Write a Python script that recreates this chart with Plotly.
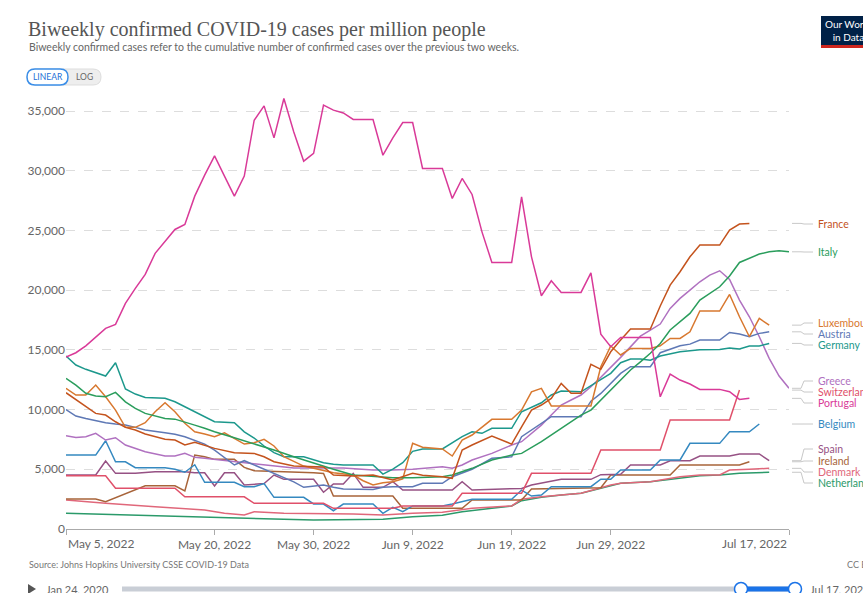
import plotly.graph_objects as go
import pandas as pd

# ---------------- DATA ----------------
START = pd.Timestamp("2022-05-05")

countries = ["France", "Italy", "Luxembourg", "Austria", "Germany", "Greece",
             "Switzerland", "Portugal", "Belgium", "Spain", "Ireland",
             "Denmark", "Netherlands"]

# day offsets from May 5, 2022 and biweekly cases per million
france_days = [0, 1, 2, 3, 4, 5, 6, 7, 8, 10, 11, 12, 13, 14, 15, 17, 18, 19, 20, 21, 23, 25, 26, 27, 29, 31, 33, 35, 36, 38,
               39, 40, 41, 43, 44, 45, 46, 47, 48, 49, 50, 51, 52, 53, 54, 55, 56, 57, 59, 60, 61, 62, 63, 64, 66, 67, 68, 69]
france_vals = [11410, 10850, 10240, 9680, 9540, 8980, 8510, 8290, 7950, 7510, 7450, 7030, 7260, 7030, 6750, 6390, 6330, 6330,
               6050, 5630, 5270, 5220, 5200, 4520, 4440, 4520, 4100, 4660, 4500, 4380, 4240, 6610, 7030, 7780, 7450, 7110,
               8560, 9960, 10380, 10940, 12190, 11360, 11360, 13790, 13370, 14840, 15820, 16740, 16740, 18670, 20420, 21540,
               22790, 23770, 23770, 25030, 25530, 25590]

italy_days = [0, 1, 2, 3, 4, 5, 6, 7, 8, 10, 11, 12, 13, 14, 15, 17, 18, 19, 21, 23, 25, 27, 29, 31, 33, 35, 37, 38, 39, 41,
              43, 45, 46, 48, 50, 52, 53, 54, 55, 57, 58, 59, 60, 61, 63, 64, 66, 67, 68, 69, 70, 71, 72, 73]
italy_vals = [12610, 12050, 11360, 11130, 11070, 11440, 10650, 10100, 9680, 9260, 9200, 8980, 8700, 8430, 8140, 7640, 7390,
              7150, 6610, 6050, 5500, 5000, 4520, 4380, 4300, 4300, 4380, 4380, 4520, 5080, 5780, 6190, 6330, 7310, 8430,
              9540, 9960, 10800, 11700, 13310, 14000, 14710, 15540, 16660, 18050, 19170, 20280, 21180, 22320, 22660, 23020,
              23210, 23300, 23210]

luxembourg_days = [0, 1, 2, 3, 4, 5, 6, 7, 8, 9, 10, 11, 12, 13, 14, 15, 16, 17, 18, 19, 20, 21, 22, 24, 25, 26, 27, 29, 30,
                   31, 32, 33, 34, 35, 36, 38, 39, 40, 41, 43, 45, 46, 47, 48, 49, 53, 54, 55, 56, 57, 59, 60, 61, 62, 63,
                   64, 66, 67, 68, 69, 70, 71]
luxembourg_vals = [11780, 11220, 11220, 12050, 11070, 9960, 8510, 8510, 8900, 9820, 10570, 9820, 8850, 8140, 7950, 7730,
                   8060, 7590, 7110, 7220, 7510, 6950, 6050, 5270, 5080, 4950, 4710, 4520, 4040, 3680, 3880, 3960, 4200,
                   7170, 6840, 6700, 6110, 7450, 7870, 9180, 9180, 9960, 11490, 11780, 10300, 10300, 13590, 15320, 14570,
                   15120, 15120, 15340, 15960, 15960, 16510, 18250, 18250, 19640, 17770, 16100, 17630, 17070]

austria_days = [0, 1, 2, 3, 4, 5, 6, 7, 8, 10, 11, 12, 13, 14, 15, 16, 17, 18, 19, 20, 21, 23, 24, 25, 26, 27, 28, 31, 32,
                33, 35, 36, 38, 39, 41, 43, 45, 46, 47, 48, 49, 52, 53, 54, 55, 56, 57, 59, 60, 61, 62, 63, 64, 66, 67, 68,
                69, 70, 71]
austria_vals = [10000, 9460, 9260, 9060, 8900, 8790, 8700, 8510, 8290, 8060, 7930, 7730, 7450, 7110, 6610, 6000, 5360, 5720,
                5360, 5000, 4660, 3950, 3490, 3600, 3680, 3500, 3350, 3300, 3490, 3540, 3540, 3830, 3830, 4380, 5000, 5920,
                6050, 7730, 8290, 8850, 9400, 9400, 10700, 11350, 12200, 13030, 13590, 13590, 14760, 15040, 15340, 15480,
                15820, 15820, 16460, 16320, 16100, 16380, 16510]

germany_days = [0, 1, 2, 3, 4, 5, 6, 7, 8, 10, 11, 12, 13, 14, 15, 17, 18, 19, 20, 21, 22, 24, 25, 26, 27, 28, 31, 32, 33,
                34, 35, 36, 38, 39, 40, 41, 42, 43, 45, 46, 47, 48, 49, 50, 52, 53, 54, 55, 56, 57, 58, 59, 60, 61, 62, 63,
                64, 66, 67, 68, 69, 70, 71]
germany_vals = [14480, 13730, 13370, 13120, 12810, 13920, 11720, 11300, 11020, 10940, 10650, 10240, 9820, 9350, 8980, 8900,
                8140, 7620, 6950, 6390, 6050, 6050, 5780, 5550, 5420, 5360, 5360, 4600, 5020, 5550, 6500, 6700, 6700, 7200,
                7730, 8140, 8010, 8430, 8430, 9820, 10190, 10570, 11220, 11550, 11490, 12000, 12470, 13030, 13920, 14230,
                14230, 14140, 14480, 14650, 14840, 14920, 15000, 15040, 15150, 15070, 15320, 15320, 15540]

greece_days = [0, 1, 2, 3, 4, 5, 6, 7, 8, 10, 11, 12, 13, 14, 15, 17, 19, 21, 23, 28, 31, 33, 35, 38, 39, 40, 41, 43, 45,
               46, 47, 48, 49, 50, 51, 52, 53, 54, 56, 58, 59, 60, 61, 62, 63, 64, 65, 66, 67, 68, 69, 70, 71, 72, 73]
greece_vals = [7810, 7670, 7730, 8010, 7450, 7640, 7030, 6750, 6470, 6110, 6110, 6330, 6000, 5920, 5830, 5630, 5440, 5270,
               5100, 5100, 4940, 4940, 5000, 5220, 5080, 5360, 5780, 6330, 7030, 7310, 8010, 8700, 9540, 10380, 10800,
               11220, 11910, 12700, 14370, 16150, 16660, 17160, 18470, 19310, 20000, 20700, 21260, 21620, 20900, 19170,
               17770, 16100, 14290, 12810, 11780]

switzerland_days = [0, 4, 5, 11, 12, 18, 19, 26, 27, 33, 34, 39, 40, 46, 47, 53, 54, 60, 61, 67, 68]
switzerland_vals = [4460, 4460, 3410, 3410, 2700, 2700, 2150, 2150, 1730, 1730, 1930, 1930, 2990, 2990, 4660, 4660, 6610,
                    6610, 9120, 9120, 11630]

portugal_days = list(range(0, 70))
portugal_vals = [14400, 14760, 15340, 16100, 16800, 17130, 18890, 20150, 21320, 23080, 24100, 25080, 25500, 27870, 29630,
                 31240, 29550, 27870, 29550, 34230, 35430, 32750, 36050, 33250, 30800, 31450, 35490, 35070, 34840, 34290,
                 34290, 34290, 31300, 32750, 34040, 34040, 30190, 30190, 30190, 27680, 29350, 28010, 24880, 22320, 22320,
                 22320, 27810, 22790, 19530, 20780, 19810, 19810, 19810, 21450, 16320, 15260, 16040, 16040, 16040, 16040,
                 11070, 12970, 12470, 12140, 11690, 11690, 11690, 11490, 10850, 10940]

belgium_days = [0, 3, 4, 5, 6, 7, 10, 11, 12, 13, 14, 17, 18, 19, 20, 21, 24, 25, 26, 27, 28, 31, 32, 33, 34, 35, 38, 39,
                41, 45, 46, 47, 48, 49, 53, 54, 55, 56, 59, 60, 62, 63, 66, 67, 69, 70]
belgium_vals = [6190, 6190, 7390, 5630, 5630, 5130, 5130, 5000, 4750, 5380, 3910, 3910, 3540, 3540, 3800, 2650, 2650, 2100,
                2090, 1530, 2090, 2090, 1310, 1820, 1450, 1930, 1930, 2090, 2490, 2490, 3260, 2760, 2850, 3540, 3540, 4170,
                4170, 4940, 4940, 5780, 5780, 7170, 7170, 8140, 8140, 8790]

spain_days = [0, 3, 4, 5, 7, 9, 12, 13, 14, 15, 16, 17, 18, 19, 20, 21, 22, 25, 26, 27, 28, 29, 30, 32, 33, 34, 39, 40, 41,
              46, 47, 50, 53, 54, 56, 57, 60, 61, 63, 64, 67, 68, 70, 71]
spain_vals = [4520, 4520, 5690, 4660, 4660, 4800, 4800, 4710, 4710, 3600, 4710, 4710, 3680, 3770, 3800, 4520, 4160, 4160,
              3080, 3770, 3770, 4660, 3490, 3490, 3960, 3260, 3260, 3960, 3260, 3400, 3680, 4160, 4160, 4550, 4580, 5360,
              5360, 5720, 5720, 6110, 6110, 6280, 6280, 5720]

ireland_days = [0, 3, 4, 6, 8, 11, 12, 13, 14, 15, 17, 18, 19, 25, 26, 27, 33, 34, 40, 41, 46, 47, 54, 55, 61, 62, 68, 69]
ireland_vals = [2510, 2510, 2290, 2930, 3620, 3620, 3180, 6190, 6050, 5830, 5830, 5160, 4880, 4710, 4650, 2760, 2760, 1730,
                1730, 2430, 2430, 3350, 3450, 4520, 4520, 5360, 5360, 5630]

denmark_days = [0, 4, 9, 14, 16, 18, 19, 22, 29, 32, 35, 38, 41, 45, 46, 48, 52, 55, 56, 59, 62, 64, 66, 67, 69, 71]
denmark_vals = [2430, 2150, 1870, 1590, 1310, 1170, 1450, 1310, 1250, 1170, 1310, 1400, 1730, 1930, 2490, 2700, 2990, 3680,
                3830, 3960, 4380, 4520, 4520, 4940, 5000, 5080]

netherlands_days = [0, 9, 19, 25, 32, 35, 38, 39, 40, 43, 45, 46, 48, 50, 52, 54, 56, 59, 62, 64, 66, 68, 71]
netherlands_vals = [1310, 1110, 890, 750, 810, 1030, 1150, 1310, 1450, 1730, 1930, 2370, 2650, 2850, 2990, 3400, 3830, 3960,
                    4240, 4460, 4520, 4660, 4750]

y_tick_vals = [0, 5000, 10000, 15000, 20000, 25000, 30000, 35000]
x_tick_dates = ["2022-05-05", "2022-05-20", "2022-05-30", "2022-06-09", "2022-06-19", "2022-06-29", "2022-07-17"]
x_tick_text = ["May 5, 2022", "May 20, 2022", "May 30, 2022", "Jun 9, 2022", "Jun 19, 2022", "Jun 29, 2022", "Jul 17, 2022"]

# ---------------- STYLE ----------------
colors = {
    "France": "#c4531d", "Italy": "#2a9d5c", "Luxembourg": "#d8782f", "Austria": "#5e78b5",
    "Germany": "#1c988c", "Greece": "#b071c0", "Switzerland": "#e0506a", "Portugal": "#d93a98",
    "Belgium": "#3589c0", "Spain": "#965184", "Ireland": "#a8643a", "Denmark": "#e0677a",
    "Netherlands": "#2b9a6a",
}
series = {
    "France": (france_days, france_vals), "Italy": (italy_days, italy_vals),
    "Luxembourg": (luxembourg_days, luxembourg_vals), "Austria": (austria_days, austria_vals),
    "Germany": (germany_days, germany_vals), "Greece": (greece_days, greece_vals),
    "Switzerland": (switzerland_days, switzerland_vals), "Portugal": (portugal_days, portugal_vals),
    "Belgium": (belgium_days, belgium_vals), "Spain": (spain_days, spain_vals),
    "Ireland": (ireland_days, ireland_vals), "Denmark": (denmark_days, denmark_vals),
    "Netherlands": (netherlands_days, netherlands_vals),
}
# label vertical placement (pixel rows in the 863x593 canvas)
label_px = {"France": 224, "Italy": 252, "Luxembourg": 323, "Austria": 334, "Germany": 345, "Greece": 381,
            "Switzerland": 392, "Portugal": 403, "Belgium": 424, "Spain": 449, "Ireland": 461, "Denmark": 472,
            "Netherlands": 483}

W, H = 863, 593
L, R, T, B = 66, 789, 93, 529
YMAX = 35000 * (B - T) / (B - 111)


def PX(x):
    return (x - L) / (R - L)


def PY(y):
    return (B - y) / (B - T)


def YV(y):
    return (B - y) / (B - T) * YMAX


FONT = "Lato, 'Open Sans', sans-serif"
fig = go.Figure()

order = ["Netherlands", "Denmark", "Ireland", "Spain", "Belgium", "Switzerland", "Greece", "Austria", "Germany",
         "Luxembourg", "Italy", "France", "Portugal"]
for c in order:
    d, v = series[c]
    dates = [START + pd.Timedelta(days=int(k)) for k in d]
    fig.add_trace(go.Scatter(x=dates, y=v, mode="lines", name=c,
                             line=dict(color=colors[c], width=1.5), hoverinfo="skip"))

shapes = []
annotations = []

# right-side labels with connectors
for c in countries:
    d, v = series[c]
    yl = YV(label_px[c])
    shapes.append(dict(type="path", xref="paper", yref="y",
                       path=f"M {PX(792)},{v[-1]} L {PX(801)},{v[-1]} L {PX(804)},{yl} L {PX(813)},{yl}",
                       line=dict(color="#c8c8c8", width=1)))
    annotations.append(dict(x=PX(816), y=yl, xref="paper", yref="y", text=c, showarrow=False,
                            xanchor="left", yanchor="middle", font=dict(family=FONT, size=10.5, color=colors[c])))

# first / last x tick labels (aligned inward)
annotations.append(dict(x=x_tick_dates[0], y=PY(543), xref="x", yref="paper", text=x_tick_text[0], showarrow=False,
                        xanchor="left", yanchor="middle", font=dict(family=FONT, size=12, color="#666")))
annotations.append(dict(x=x_tick_dates[-1], y=PY(543), xref="x", yref="paper", text=x_tick_text[-1], showarrow=False,
                        xanchor="right", yanchor="middle", font=dict(family=FONT, size=12, color="#666")))
mid_text = [""] + x_tick_text[1:-1] + [""]

# title & subtitle
annotations.append(dict(x=PX(26), y=PY(29), xref="paper", yref="paper", showarrow=False, xanchor="left",
                        yanchor="middle", text="Biweekly confirmed COVID-19 cases per million people",
                        font=dict(family="'Liberation Serif', 'DejaVu Serif', serif", size=20, color="#555")))
annotations.append(dict(x=PX(27), y=PY(47), xref="paper", yref="paper", showarrow=False, xanchor="left",
                        yanchor="middle",
                        text="Biweekly confirmed cases refer to the cumulative number of confirmed cases over the previous two weeks.",
                        font=dict(family=FONT, size=10.5, color="#666")))


# LINEAR / LOG toggle
def pill(x0, y0, x1, y1, r):
    return (f"M {PX(x0 + r)},{PY(y0)} L {PX(x1 - r)},{PY(y0)} Q {PX(x1)},{PY(y0)} {PX(x1)},{PY(y0 + r)} "
            f"L {PX(x1)},{PY(y1 - r)} Q {PX(x1)},{PY(y1)} {PX(x1 - r)},{PY(y1)} L {PX(x0 + r)},{PY(y1)} "
            f"Q {PX(x0)},{PY(y1)} {PX(x0)},{PY(y1 - r)} L {PX(x0)},{PY(y0 + r)} Q {PX(x0)},{PY(y0)} {PX(x0 + r)},{PY(y0)} Z")


shapes.append(dict(type="path", xref="paper", yref="paper", path=pill(27, 69, 101, 85, 8),
                   fillcolor="#eeeeee", line=dict(color="#dddddd", width=1)))
shapes.append(dict(type="path", xref="paper", yref="paper", path=pill(27, 69, 68, 85, 8),
                   fillcolor="#ffffff", line=dict(color="#3b8ee8", width=1.5)))
annotations.append(dict(x=PX(47.5), y=PY(77), xref="paper", yref="paper", text="LINEAR", showarrow=False,
                        xanchor="center", yanchor="middle", font=dict(family=FONT, size=8.5, color="#1d6fd6")))
annotations.append(dict(x=PX(84), y=PY(77), xref="paper", yref="paper", text="LOG", showarrow=False,
                        xanchor="center", yanchor="middle", font=dict(family=FONT, size=8.5, color="#666")))

# logo
shapes.append(dict(type="rect", xref="paper", yref="paper", x0=PX(821), x1=PX(885), y0=PY(45), y1=PY(16),
                   fillcolor="#002147", line=dict(width=0)))
shapes.append(dict(type="rect", xref="paper", yref="paper", x0=PX(821), x1=PX(885), y0=PY(48), y1=PY(45),
                   fillcolor="#ce261e", line=dict(width=0)))
annotations.append(dict(x=PX(823), y=PY(30.5), xref="paper", yref="paper", text="Our World<br>   in Data",
                        showarrow=False, xanchor="left", yanchor="middle", align="left",
                        font=dict(family=FONT, size=10, color="#ffffff")))

# source / licence
annotations.append(dict(x=PX(27), y=PY(564), xref="paper", yref="paper", showarrow=False, xanchor="left",
                        yanchor="middle", text="Source: Johns Hopkins University CSSE COVID-19 Data",
                        font=dict(family=FONT, size=9, color="#777")))
annotations.append(dict(x=PX(845), y=PY(564), xref="paper", yref="paper", showarrow=False, xanchor="left",
                        yanchor="middle", text="CC BY", font=dict(family=FONT, size=9, color="#777")))

# timeline
shapes.append(dict(type="path", xref="paper", yref="paper",
                   path=f"M {PX(28)},{PY(584)} L {PX(36)},{PY(589)} L {PX(28)},{PY(594)} Z",
                   fillcolor="#555", line=dict(width=0)))
annotations.append(dict(x=PX(44), y=PY(589), xref="paper", yref="paper", showarrow=False, xanchor="left",
                        yanchor="middle", text="Jan 24, 2020", font=dict(family=FONT, size=11, color="#666")))
shapes.append(dict(type="rect", xref="paper", yref="paper", x0=PX(122), x1=PX(795), y0=PY(591.5), y1=PY(586.5),
                   fillcolor="#c9ced6", line=dict(width=0)))
shapes.append(dict(type="rect", xref="paper", yref="paper", x0=PX(741), x1=PX(795), y0=PY(591.5), y1=PY(586.5),
                   fillcolor="#1a73e8", line=dict(width=0)))
for hx in (741, 795):
    shapes.append(dict(type="circle", xref="paper", yref="paper", x0=PX(hx - 6.5), x1=PX(hx + 6.5),
                       y0=PY(595.5), y1=PY(582.5), fillcolor="#ffffff", line=dict(color="#1a73e8", width=1.5)))
annotations.append(dict(x=PX(808), y=PY(589), xref="paper", yref="paper", showarrow=False, xanchor="left",
                        yanchor="middle", text="Jul 17, 2022", font=dict(family=FONT, size=11, color="#666")))

fig.update_layout(
    width=W, height=H, margin=dict(l=L, r=W - R, t=T, b=H - B),
    paper_bgcolor="#ffffff", plot_bgcolor="#ffffff", showlegend=False,
    font=dict(family=FONT, color="#666"),
    shapes=shapes, annotations=annotations,
    xaxis=dict(type="date", range=[START, START + pd.Timedelta(days=73)], tickvals=x_tick_dates,
               ticktext=mid_text, showgrid=False, showline=True, linecolor="#aaaaaa", linewidth=1,
               ticks="outside", ticklen=5, tickcolor="#aaaaaa", tickfont=dict(family=FONT, size=12, color="#666"),
               zeroline=False, fixedrange=True),
    yaxis=dict(range=[0, YMAX], tickvals=y_tick_vals, tickformat=",", showgrid=True, gridcolor="#dddddd",
               griddash="dash", zeroline=False, showline=False, ticks="",
               tickfont=dict(family=FONT, size=12, color="#666"), fixedrange=True),
)

fig.write_html("out.html", config={"displayModeBar": False},
               post_script="document.body.style.margin='0';")
